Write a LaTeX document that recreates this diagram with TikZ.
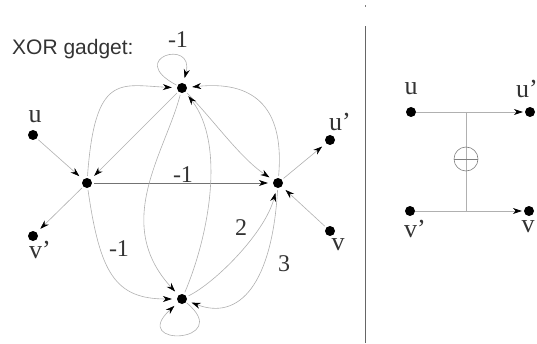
\documentclass[tikz,border=0pt]{standalone}
\usepackage{fontspec}
\setmainfont{Liberation Serif}
\newfontfamily\arialfont{Liberation Sans}
\usetikzlibrary{arrows.meta}
\definecolor{edgegray}{HTML}{B0B0B0}
\definecolor{txtgray}{HTML}{333333}
\begin{document}
\begin{tikzpicture}[x=1pt,y=1pt,
  dot/.style={circle,fill=black,inner sep=0pt,minimum size=10pt},
  edge/.style={draw=edgegray,line width=0.6pt,-{Stealth[length=9pt,width=6pt,black]},shorten >=5pt,shorten <=2pt},
  redge/.style={draw=edgegray,line width=0.6pt,-{Stealth[length=9pt,width=6pt,black]},shorten >=2pt},
  lbl/.style={text=txtgray,font=\fontsize{26}{28}\selectfont,inner sep=0pt},
  num/.style={text=txtgray,font=\fontsize{24}{26}\selectfont,inner sep=0pt}]
\useasboundingbox (0,0) rectangle (537,343);
% title
\node[anchor=base west,text=txtgray,font=\arialfont\fontsize{21}{24}\selectfont,inner sep=0pt] (title) at (12,288) {XOR gadget:};
% gadget nodes
\node[dot] (T) at (182,255) {};
\node[dot] (L) at (87,160) {};
\node[dot] (R) at (278,160) {};
\node[dot] (B) at (182,44) {};
\node[dot] (u) at (33,208) {};
\node[dot] (vp) at (33,107) {};
\node[dot] (up) at (330,203) {};
\node[dot] (v) at (330,112) {};
% labels
\node[lbl] (lu) at (35,226) {u};
\node[lbl] (lvp) at (40,93) {v'};
\node[lbl] (lup) at (340,221) {u'};
\node[lbl] (lv) at (338,98) {v};
\node[num] (n1) at (178,303) {-1};
\node[num] (n2) at (183,168) {-1};
\node[num] (n3) at (119,94) {-1};
\node[num] (n4) at (241,115) {2};
\node[num] (n5) at (284,79) {3};
% straight edges
\draw[edge] (u) -- (L);
\draw[edge] (L) -- (vp);
\draw[edge] (R) -- (up);
\draw[edge] (v) -- (R);
\draw[edge] (T) -- (L);
\draw[edge,draw=gray!90!black] (L) -- (R);
% curved edges
\draw[edge] (T) .. controls (212,225) and (240,185) .. (R);
\draw[edge] (L) .. controls (95,270) and (120,258) .. (T);
\draw[edge] (R) .. controls (285,240) and (250,262) .. (T);
\draw[edge] (T) .. controls (165,190) and (112,120) .. (B);
\draw[edge] (B) .. controls (210,110) and (225,200) .. (T);
\draw[edge] (L) .. controls (100,70) and (115,44) .. (B);
\draw[edge] (B) .. controls (215,60) and (265,110) .. (R);
\draw[edge] (R) .. controls (272,60) and (240,22) .. (B);
% loops
\draw[edge,shorten <=1pt] (T) .. controls (125,285) and (195,305) .. (T);
\draw[edge,shorten <=1pt] (B) .. controls (235,0) and (128,-5) .. (B);
% separator
\draw[draw=gray!80!black,line width=0.8pt] (365,0) coordinate (s0) -- (365,317) coordinate (s1);
\draw[draw=gray,line width=0.6pt] (365,336) coordinate (s2) -- (365,338) coordinate (s3);
% right panel
\node[dot] (ru) at (411,231) {};
\node[dot] (rup) at (530,231) {};
\node[dot] (rvp) at (410,132) {};
\node[dot] (rv) at (529,132) {};
\node[lbl] (lru) at (411,254) {u};
\node[lbl,anchor=west] (lrup) at (516,254) {u'};
\node[lbl] (lrvp) at (415,114) {v'};
\node[lbl] (lrv) at (528,116) {v};
\draw[redge] (ru) -- (rup);
\draw[redge] (rvp) -- (rv);
\coordinate (ct) at (466,231);
\coordinate (cb) at (466,132);
\draw[draw=edgegray,line width=0.6pt] (ct) -- (cb);
\node[circle,draw=gray,line width=0.6pt,minimum size=24pt,inner sep=0pt] (xo) at (466,184) {};
\draw[draw=gray,line width=0.6pt] (xo.west) -- (xo.east);
\end{tikzpicture}
\end{document}
